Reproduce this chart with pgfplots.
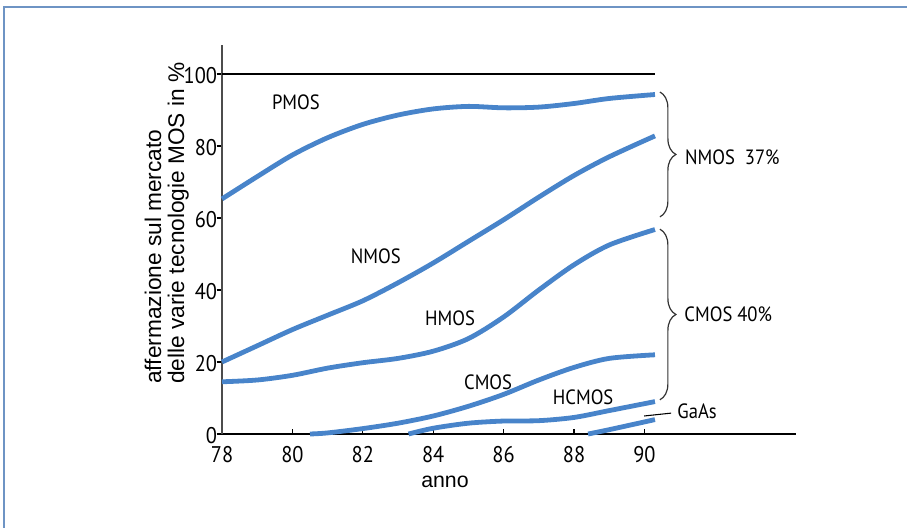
\documentclass[border=0pt]{standalone}
\usepackage{pgfplots}
\pgfplotsset{compat=1.18}
\usepackage{fontspec}
\setmainfont{Liberation Sans}
\newfontfamily\din[FakeStretch=0.9]{PT Sans}
\newcommand\tickfont{\din\fontsize{17pt}{19pt}\selectfont}
\usetikzlibrary{decorations.pathreplacing}
\definecolor{curve}{RGB}{72,132,202}
\definecolor{frame}{RGB}{110,148,196}
\begin{document}
\begin{tikzpicture}
\useasboundingbox (0,0) rectangle (680.25pt,396pt);
\draw[frame, line width=2.2pt] (2.25pt,390.75pt) -- (680.25pt,390.75pt);
\draw[frame, line width=2.2pt] (3pt,390.75pt) -- (3pt,0pt);
\begin{axis}[
  at={(166.5pt,70.5pt)}, anchor=origin,
  x=26.4pt, y=2.7pt,
  xmin=78, xmax=94.3, ymin=0, ymax=108,
  axis x line=bottom, axis y line=left,
  x axis line style={-, black, line width=1.1pt},
  y axis line style={-, black!70, line width=1.1pt},
  xtick={78,80,82,84,86,88,90}, ytick={0,20,40,60,80,100},
  xticklabels={78,80,82,84,86,88,90},
  yticklabels={0,20,40,60,80,100},
  xtick align=inside, ytick align=outside,
  major tick length=4pt,
  tick style={black, line width=0.9pt},
  tick label style={font=\tickfont},
  xticklabel style={anchor=base, inner sep=0pt, yshift=-21.75pt},
  yticklabel style={anchor=east, inner sep=0pt, yshift=-1.5pt, xshift=0.5pt},
  clip=false,
]
\draw[black, line width=1.1pt] (axis cs:78,100) -- (axis cs:90.3,100);
% PMOS
\addplot[curve, line width=3.6pt, smooth] coordinates {
(78,65.3) (79,71.5) (80,77.5) (81,82.3) (82,86) (83,88.6) (84,90.3) (85,91) (86,90.6) (87,90.8) (88,91.8) (89,93.2) (90.3,94.3)};
% NMOS
\addplot[curve, line width=3.6pt, smooth] coordinates {
(78,20) (79,24.5) (80,29) (81,33) (82,37) (83,42) (84,47.5) (85,53.5) (86,59.5) (87,65.8) (88,71.8) (89,77) (90.3,82.8)};
% HMOS
\addplot[curve, line width=3.6pt, smooth] coordinates {
(78,14.5) (79,15) (80,16.3) (81,18.3) (82,19.8) (83,21) (84,23) (85,26.5) (86,32.5) (87,40) (88,47) (89,52.5) (90.3,56.8)};
% CMOS
\addplot[curve, line width=3.6pt, smooth] coordinates {
(80.5,0) (81,0.3) (82,1.5) (83,3) (84,5) (85,7.7) (86,11) (87,15) (88,18.5) (89,21) (90.3,22)};
% HCMOS
\addplot[curve, line width=3.6pt, smooth] coordinates {
(83.3,0) (84,1.6) (85,3) (86,3.6) (87,3.7) (88,4.6) (89,6.5) (90.3,9)};
% GaAs
\addplot[curve, line width=3.6pt, smooth] coordinates {
(88.4,0) (89,1.2) (90.3,4)};
\node[font=\din\fontsize{15.5}{17}\selectfont] at (axis cs:80.1,92.2) {PMOS};
\node[font=\din\fontsize{15.5}{17}\selectfont] at (axis cs:82.37,49.4) {NMOS};
\node[font=\din\fontsize{15.5}{17}\selectfont] at (axis cs:84.48,32.2) {HMOS};
\node[font=\din\fontsize{15.5}{17}\selectfont] at (axis cs:85.56,14.4) {CMOS};
\node[font=\din\fontsize{15.5}{17}\selectfont] at (axis cs:88.26,10.3) {HCMOS};
\node[font=\din\fontsize{15.5}{17}\selectfont, anchor=west, inner sep=0pt] at (axis cs:90.93,6.4) {GaAs};
\node[font=\din\fontsize{15.5}{17}\selectfont, anchor=west, inner sep=0pt] at (axis cs:91.15,76.9) {NMOS~~37\%};
\node[font=\din\fontsize{15.5}{17}\selectfont, anchor=west, inner sep=0pt] at (axis cs:91.13,33.3) {CMOS 40\%};
\draw[black, line width=0.8pt] (axis cs:89.99,5) -- (axis cs:90.76,5.8);
\draw[black!80, line width=0.9pt, decorate, decoration={brace, amplitude=12pt}] (axis cs:90.44,95) -- (axis cs:90.44,60.3);
\draw[black!80, line width=0.9pt, decorate, decoration={brace, amplitude=12pt}] (axis cs:90.44,56.9) -- (axis cs:90.44,9.5);
\end{axis}
\node[rotate=90, anchor=base west, inner sep=0pt, font=\fontsize{17}{19}\selectfont] at (120.75pt,108pt) {affermazione sul mercato};
\node[rotate=90, anchor=base west, inner sep=0pt, font=\fontsize{17}{19}\selectfont] at (138pt,108pt) {delle varie tecnologie MOS in \%};
\node[anchor=base, inner sep=0pt, font=\fontsize{16}{18}\selectfont] at (333.75pt,30pt) {anno};
\end{tikzpicture}
\end{document}
